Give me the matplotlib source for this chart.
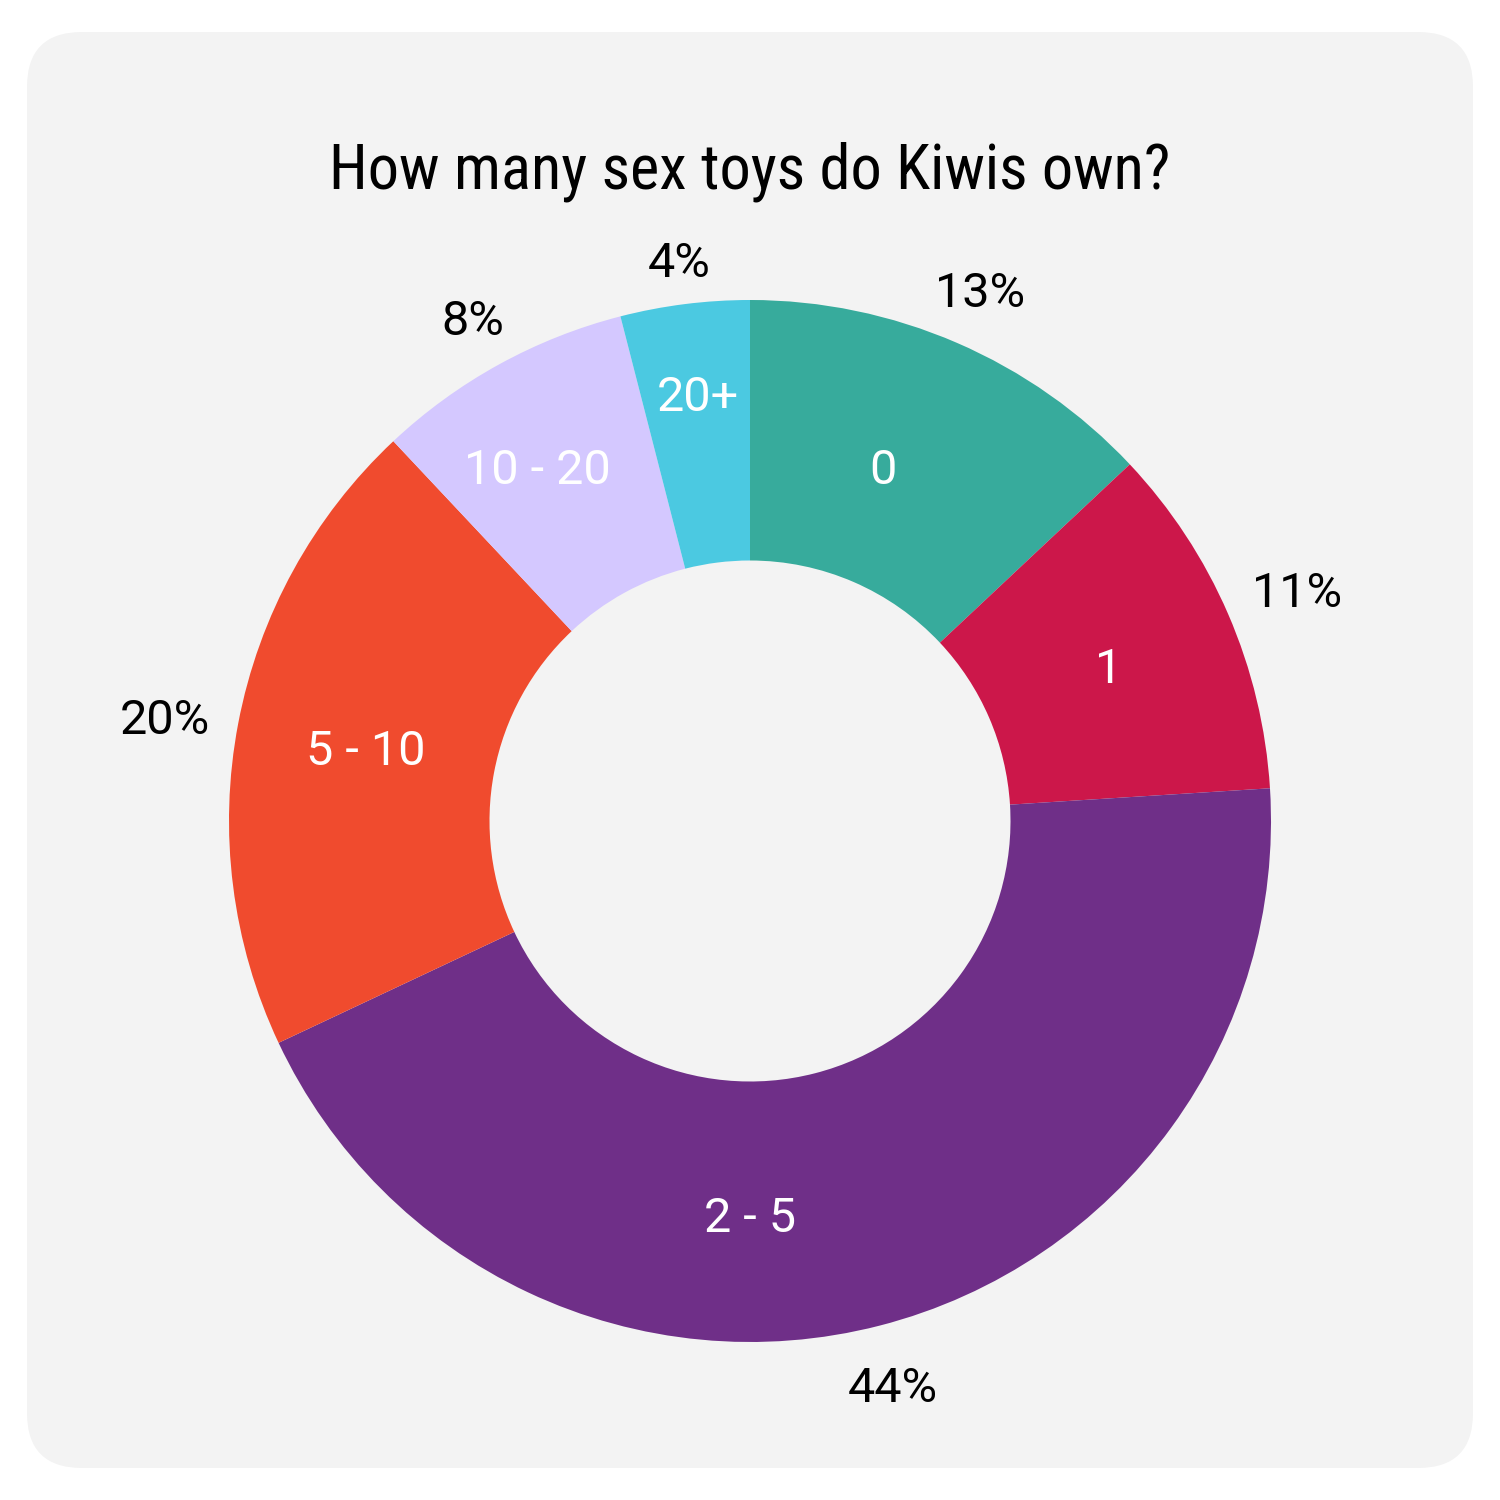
import matplotlib
matplotlib.use("Agg")
import matplotlib.pyplot as plt
from matplotlib.patches import FancyBboxPatch
import numpy as np

categories = ["0", "1", "2 - 5", "5 - 10", "10 - 20", "20+"]
shares = [13, 11, 44, 20, 8, 4]
colors = ["#37AB9C", "#CC174A", "#6F2F88", "#F04B2E", "#D4C8FF", "#4BC9E1"]
title = "How many sex toys do Kiwis own?"

# hand nudges (px) for the inner labels, as placed in the original
inner_nudge = {"0": (-22, -4), "10 - 20": (-24, 12), "20+": (-3, 40), "2 - 5": (-97, -15)}

plt.rcParams['font.family'] = ['Roboto', 'DejaVu Sans']

fig = plt.figure(figsize=(15, 15), dpi=100)
fig.patch.set_facecolor("white")
ax = fig.add_axes([0, 0, 1, 1])

# rounded card behind the chart
card = FancyBboxPatch((27, 32), 1446, 1436, boxstyle="round,pad=0,rounding_size=55",
                      facecolor="#F3F3F3", edgecolor="none", zorder=0)
ax.add_patch(card)

cx, cy, R = 750, 679, 521
wedges, _ = ax.pie(shares, colors=colors, startangle=90, counterclock=False,
                   radius=R, center=(cx, cy), frame=True,
                   wedgeprops=dict(width=R * 0.5, linewidth=0))
ax.set_xlim(0, 1500)
ax.set_ylim(0, 1500)
ax.set_aspect("equal")
ax.axis("off")

fs = 35
half_digit = fs * 100 / 72 * 0.711 / 2   # half the digit height in px

renderer = fig.canvas.get_renderer()
for w, cat, s in zip(wedges, categories, shares):
    mid = np.deg2rad((w.theta1 + w.theta2) / 2)
    ux, uy = np.cos(mid), np.sin(mid)
    nx, ny = inner_nudge.get(cat, (0, 0))
    ax.text(cx + 0.75 * R * ux + nx, cy + 0.75 * R * uy - half_digit + ny, cat,
            ha="center", va="baseline", color="white", fontsize=fs, zorder=5)
    # outside label: box edge sits just beyond the ring
    t = ax.text(0, 0, f"{s}%", ha="center", va="baseline", color="black", fontsize=fs, zorder=5)
    a = t.get_window_extent(renderer).width / 2
    d = R + 23 + 1.1 * a * abs(ux) + half_digit * abs(uy)
    drop = 9 * (1 - max(uy, 0))
    t.set_position((cx + d * ux, cy + d * uy - half_digit - drop))

ax.text(750, 1328, title, ha="center", va="center", fontsize=45,
        family=['Roboto Condensed', 'Roboto', 'DejaVu Sans'], color="black", zorder=5)

fig.savefig("out.png", dpi=100)
